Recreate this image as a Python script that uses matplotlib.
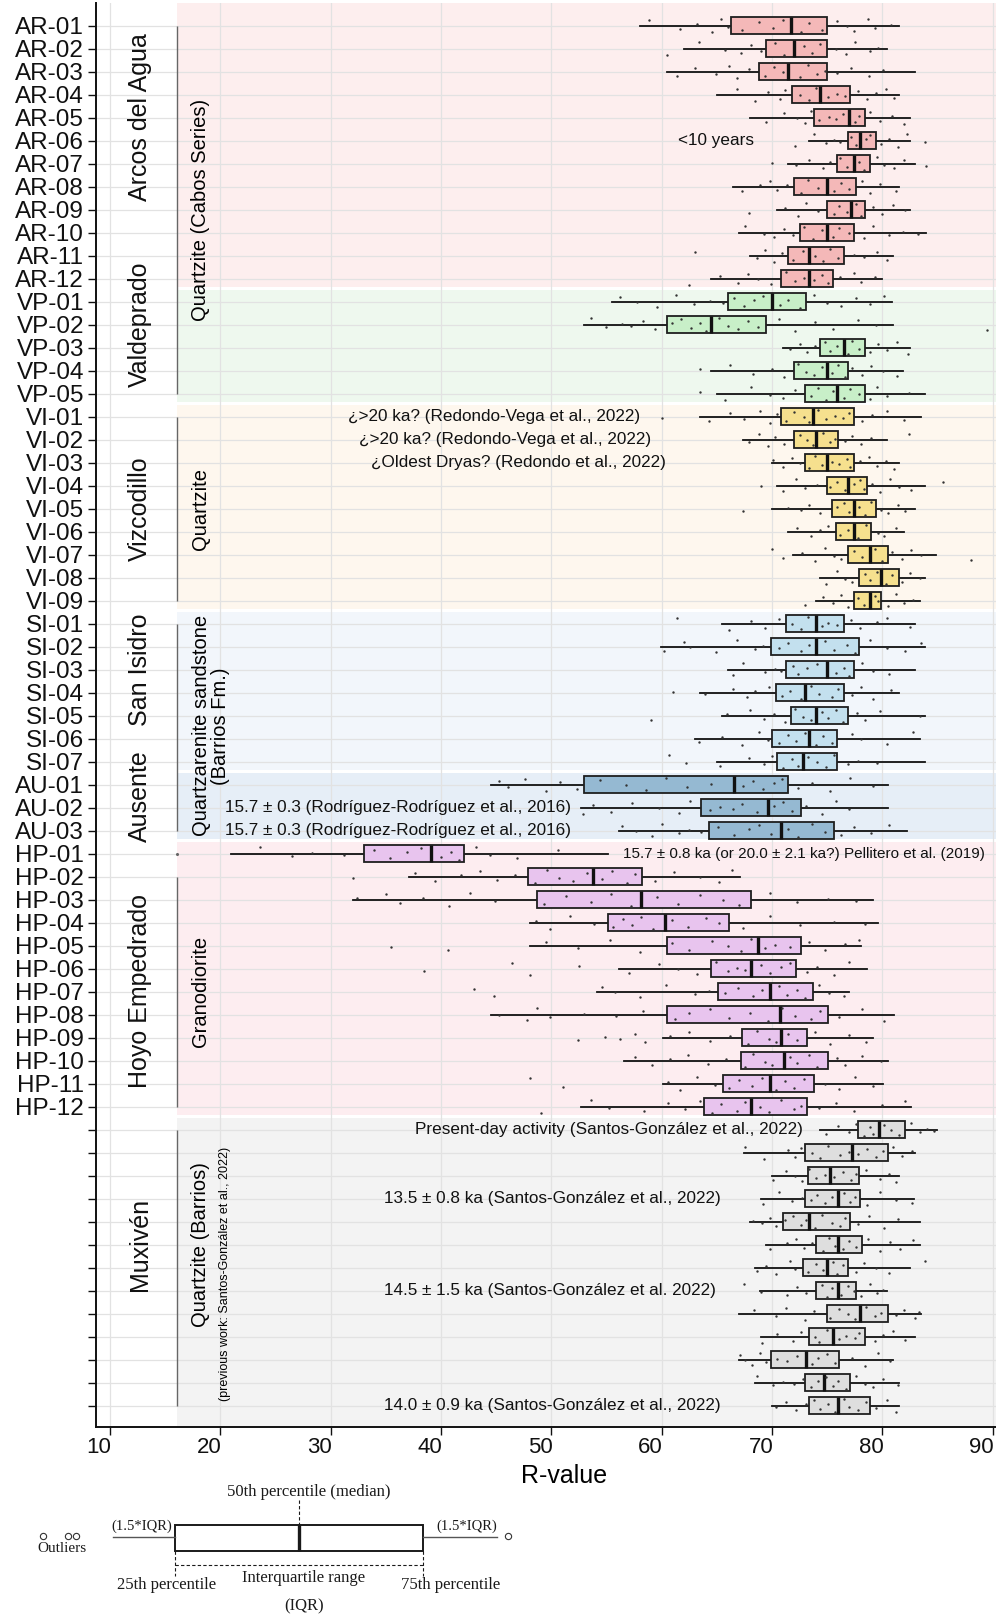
import matplotlib
matplotlib.use('Agg')
import matplotlib.pyplot as plt
from matplotlib.transforms import ScaledTranslation
from matplotlib.patches import Rectangle

# ---------------- data ----------------
samples = ['AR-01', 'AR-02', 'AR-03', 'AR-04', 'AR-05', 'AR-06', 'AR-07', 'AR-08', 'AR-09', 'AR-10', 'AR-11', 'AR-12',
           'VP-01', 'VP-02', 'VP-03', 'VP-04', 'VP-05',
           'VI-01', 'VI-02', 'VI-03', 'VI-04', 'VI-05', 'VI-06', 'VI-07', 'VI-08', 'VI-09',
           'SI-01', 'SI-02', 'SI-03', 'SI-04', 'SI-05', 'SI-06', 'SI-07',
           'AU-01', 'AU-02', 'AU-03',
           'HP-01', 'HP-02', 'HP-03', 'HP-04', 'HP-05', 'HP-06', 'HP-07', 'HP-08', 'HP-09', 'HP-10', 'HP-11', 'HP-12',
           '', '', '', '', '', '', '', '', '', '', '', '', '']

whisker_low = [58.0, 62.0, 60.5, 65.0, 68.0, 73.4, 71.5, 66.5, 70.5, 67.0, 68.0, 64.5,
               55.5, 53.0, 71.0, 64.5, 65.0,
               63.5, 67.4, 70.0, 70.5, 70.0, 71.5, 71.9, 74.4, 74.0,
               65.5, 59.9, 66.0, 63.5, 65.5, 63.0, 65.0,
               44.5, 52.7, 56.1,
               21.0, 37.1, 32.0, 48.1, 48.1, 56.1, 54.1, 44.5, 60.1, 56.6, 60.1, 52.7,
               74.4, 67.5, 70.0, 69.0, 68.0, 69.5, 68.5, 68.9, 67.0, 69.0, 67.0, 68.5, 70.0]
q1 = [66.3, 69.5, 68.8, 71.8, 73.8, 76.9, 75.9, 72.0, 75.0, 72.5, 71.5, 70.8,
      66.0, 60.5, 74.4, 72.0, 73.0,
      70.8, 72.0, 73.0, 75.0, 75.4, 75.8, 76.9, 77.9, 77.4,
      71.3, 69.9, 71.3, 70.4, 71.7, 70.0, 70.5,
      53.0, 63.6, 64.3,
      33.0, 47.9, 48.7, 55.1, 60.5, 64.5, 65.1, 60.5, 67.3, 67.2, 65.6, 63.8,
      77.8, 73.0, 73.3, 73.0, 71.0, 74.0, 72.8, 74.0, 75.0, 73.4, 69.9, 73.0, 73.4]
median = [71.7, 72.0, 71.5, 74.4, 77.0, 78.0, 77.4, 75.0, 77.2, 75.0, 73.4, 73.4,
          70.0, 64.5, 76.5, 75.0, 75.9,
          73.7, 74.0, 75.0, 76.9, 77.4, 77.4, 78.9, 79.9, 78.9,
          74.0, 74.0, 75.0, 73.0, 74.0, 73.4, 72.8,
          66.6, 69.6, 70.8,
          39.1, 53.8, 58.1, 60.3, 68.7, 68.1, 69.8, 70.7, 70.8, 71.1, 69.8, 68.1,
          79.7, 77.3, 75.3, 76.0, 73.4, 76.0, 75.0, 76.0, 78.0, 75.5, 73.1, 74.7, 76.0]
q3 = [75.0, 75.0, 75.0, 77.1, 78.4, 79.4, 78.9, 77.6, 78.4, 77.4, 76.5, 75.5,
      73.1, 69.5, 78.4, 76.9, 78.4,
      77.4, 76.0, 77.4, 78.6, 79.4, 79.0, 80.5, 81.5, 79.9,
      76.5, 77.9, 77.4, 76.5, 76.9, 75.9, 75.9,
      71.5, 72.6, 75.6,
      42.1, 58.2, 68.1, 66.1, 72.6, 72.2, 73.7, 75.1, 73.2, 75.1, 73.8, 73.2,
      82.1, 80.5, 77.9, 78.0, 77.1, 78.2, 76.9, 77.6, 80.5, 78.4, 76.1, 77.1, 78.9]
whisker_high = [81.5, 80.4, 83.0, 81.5, 82.5, 82.5, 83.0, 81.5, 82.5, 84.0, 81.0, 80.0,
                80.9, 81.0, 82.5, 81.9, 83.9,
                83.5, 80.4, 81.5, 83.9, 83.0, 82.0, 84.9, 83.9, 83.4,
                83.0, 83.9, 83.0, 81.5, 83.9, 83.4, 83.9,
                80.5, 80.5, 82.2,
                55.1, 67.1, 79.2, 79.6, 78.1, 78.6, 77.0, 81.1, 79.2, 80.5, 80.1, 82.6,
                85.0, 83.0, 81.5, 82.9, 83.4, 83.4, 82.5, 80.4, 83.5, 83.0, 81.0, 81.5, 81.5]

points = [
    [58.9, 61.7, 63.2, 64.6, 65.4, 66.0, 67.3, 68.8, 70.1, 71.0, 72.6, 73.4, 74.5, 75.9, 76.8, 77.4, 78.7, 79.3, 80.8],
    [60.5, 63.4, 65.7, 67.2, 68.1, 69.0, 70.3, 71.1, 72.9, 73.6, 74.4, 75.8, 76.7, 77.5, 78.9, 79.6],
    [61.4, 63.0, 64.9, 66.1, 66.8, 67.9, 69.4, 70.2, 71.0, 72.5, 73.3, 74.1, 74.8, 75.9, 77.2, 78.8, 80.1],
    [66.8, 68.5, 69.6, 70.7, 71.2, 72.5, 73.4, 74.0, 75.1, 75.9, 76.6, 77.8, 78.6, 79.4, 80.3, 81.1],
    [69.5, 71.1, 72.3, 73.0, 73.5, 74.3, 75.2, 75.8, 76.4, 77.5, 77.9, 78.9, 79.8, 80.9, 82.0],
    [72.1, 73.8, 74.9, 75.6, 76.2, 77.2, 77.6, 78.5, 78.9, 79.9, 80.6, 81.4, 82.2, 83.9],
    [70.0, 72.2, 73.4, 74.6, 75.3, 76.2, 76.8, 77.9, 78.3, 79.5, 80.2, 81.1, 82.0, 84.0],
    [67.3, 68.9, 69.8, 70.5, 71.4, 72.6, 73.3, 74.2, 75.6, 76.3, 77.0, 78.2, 78.9, 79.8, 81.2],
    [67.9, 71.2, 72.4, 73.1, 74.2, 75.6, 76.1, 76.8, 77.6, 78.1, 79.2, 80.0, 81.0, 82.1],
    [67.6, 69.3, 70.2, 71.1, 71.9, 72.9, 73.7, 74.5, 75.5, 76.1, 77.0, 78.3, 79.2, 80.6, 81.9, 83.2],
    [63.0, 68.6, 69.4, 70.2, 70.9, 71.9, 72.8, 73.9, 74.6, 75.3, 76.0, 77.4, 78.3, 79.5, 80.4],
    [62.5, 65.3, 66.9, 67.8, 68.7, 69.9, 71.3, 72.1, 72.9, 73.8, 74.5, 75.1, 76.2, 77.4, 78.1, 79.3],
    [56.2, 57.8, 59.6, 61.3, 62.9, 64.4, 65.6, 66.6, 67.5, 68.4, 69.2, 70.7, 71.5, 72.5, 73.8, 75.0, 76.3, 77.6, 78.9, 80.2],
    [53.6, 55.0, 56.4, 57.2, 58.3, 59.4, 60.9, 61.8, 62.7, 63.5, 64.0, 65.2, 66.0, 66.9, 67.8, 68.7, 70.6, 72.1, 73.9, 75.5, 77.8, 79.4, 89.5],
    [71.6, 72.5, 73.2, 73.9, 74.8, 75.3, 75.9, 76.9, 77.3, 77.9, 78.9, 79.6, 80.4, 81.3, 82.3],
    [63.5, 66.2, 68.3, 70.0, 71.1, 72.4, 73.1, 73.8, 74.5, 75.4, 76.0, 76.6, 77.3, 78.2, 79.0, 80.1, 81.3],
    [63.5, 65.7, 68.1, 69.8, 71.0, 72.1, 73.5, 74.2, 74.9, 75.5, 76.5, 77.1, 77.9, 78.9, 79.5, 80.4, 82.4],
    [60.0, 64.3, 66.2, 67.5, 68.9, 69.8, 70.5, 71.3, 72.0, 72.9, 73.4, 74.2, 74.9, 75.7, 76.4, 77.0, 78.2, 79.1, 80.4, 82.0],
    [67.9, 68.8, 69.6, 70.3, 71.1, 72.5, 73.2, 73.7, 74.6, 75.3, 75.7, 76.6, 77.3, 78.1, 79.0, 82.4],
    [70.1, 71.0, 71.8, 72.5, 73.4, 73.9, 74.5, 75.4, 76.1, 76.8, 77.1, 78.0, 78.8, 79.5, 80.3, 81.1],
    [69.0, 71.0, 72.2, 73.0, 74.1, 75.3, 75.9, 76.6, 77.4, 78.0, 78.3, 79.1, 79.8, 80.7, 81.5, 82.6, 85.5],
    [67.4, 71.5, 72.6, 73.4, 74.4, 75.9, 76.5, 77.0, 77.9, 78.4, 79.0, 79.9, 80.5, 81.4, 82.1],
    [72.3, 73.5, 74.4, 75.1, 76.2, 76.9, 77.8, 78.5, 79.6, 80.2, 81.2],
    [70.0, 71.0, 72.7, 73.9, 74.8, 75.6, 76.3, 77.4, 78.2, 79.3, 80.0, 80.9, 81.8, 82.6, 83.5, 88.0],
    [74.9, 75.9, 76.6, 77.3, 78.4, 78.9, 79.5, 80.3, 80.9, 81.8, 82.5, 83.4],
    [73.0, 74.6, 75.5, 76.3, 76.9, 77.8, 78.3, 79.3, 79.6, 80.5, 81.2, 82.0, 82.8],
    [61.4, 66.1, 68.1, 69.4, 70.6, 71.8, 72.6, 73.3, 74.5, 75.1, 75.9, 77.2, 78.0, 79.5, 80.4, 82.5],
    [60.2, 62.0, 62.6, 64.9, 66.8, 68.5, 69.2, 70.6, 71.5, 72.6, 73.4, 74.8, 75.6, 76.8, 77.5, 78.9, 80.4, 82.1, 83.5],
    [66.5, 67.4, 69.4, 70.3, 70.8, 71.9, 72.4, 73.2, 74.1, 75.8, 76.5, 77.0, 78.2, 79.2, 80.6],
    [61.0, 63.9, 66.5, 67.7, 68.5, 69.7, 70.9, 71.6, 72.6, 73.5, 74.3, 75.4, 76.0, 77.3, 78.1, 79.2, 80.8],
    [59.0, 65.9, 68.0, 69.3, 70.2, 71.2, 72.1, 72.8, 73.5, 74.5, 75.1, 75.8, 76.4, 77.7, 78.4, 79.8, 83.4],
    [63.4, 65.5, 67.3, 68.8, 69.6, 70.6, 71.5, 72.2, 73.0, 74.0, 74.6, 75.4, 77.3, 78.1, 80.4, 82.8],
    [60.7, 62.2, 65.3, 67.9, 69.3, 70.0, 71.0, 71.8, 72.4, 73.3, 74.1, 74.9, 75.6, 76.9, 77.8, 79.5],
    [45.3, 46.1, 47.6, 49.5, 50.8, 52.3, 54.4, 56.8, 58.6, 60.4, 62.3, 64.5, 67.4, 68.3, 69.2, 70.2, 70.9, 72.4, 73.6, 75.3, 77.1, 79.2],
    [52.9, 53.8, 55.4, 57.3, 59.8, 61.6, 62.6, 64.4, 65.3, 66.5, 67.3, 68.6, 70.2, 71.0, 71.8, 73.1, 74.5, 75.8, 77.0],
    [56.4, 57.7, 59.1, 60.0, 61.6, 62.5, 63.6, 65.1, 66.6, 67.9, 68.8, 69.9, 71.5, 72.4, 73.6, 74.8, 76.3, 77.4, 79.0, 80.6],
    [23.6, 26.5, 28.3, 31.2, 33.9, 35.4, 36.9, 38.2, 40.0, 40.9, 41.6, 43.2, 44.4, 46.9, 50.6],
    [32.0, 37.6, 39.5, 41.8, 43.5, 45.1, 46.7, 48.5, 49.6, 50.7, 52.0, 53.2, 54.6, 55.5, 56.9, 57.6, 59.4, 61.1, 63.5, 65.2, 66.4],
    [32.4, 35.0, 36.3, 38.4, 40.7, 42.6, 44.9, 49.3, 51.3, 53.6, 55.4, 57.2, 59.6, 61.5, 63.5, 65.6, 67.0, 69.8, 72.3, 75.1, 77.6],
    [48.6, 49.9, 51.7, 53.9, 55.6, 56.5, 57.3, 58.1, 59.2, 60.9, 62.4, 64.0, 65.2, 67.4, 69.8, 72.5, 75.6, 78.4],
    [35.5, 40.6, 49.5, 52.4, 55.3, 58.0, 60.9, 62.5, 64.6, 66.0, 67.2, 68.1, 69.4, 70.3, 71.6, 73.4, 74.8, 76.6, 77.9],
    [38.5, 46.4, 48.1, 52.5, 57.0, 59.8, 61.5, 63.2, 64.9, 66.0, 66.8, 67.6, 69.0, 69.8, 70.8, 71.6, 73.2, 74.1, 75.6, 77.0],
    [43.0, 44.8, 54.6, 55.8, 58.0, 60.4, 63.0, 64.3, 65.7, 66.9, 68.3, 69.1, 70.6, 71.4, 72.3, 73.0, 74.3, 75.2, 76.5],
    [45.3, 47.8, 48.7, 49.9, 53.0, 55.9, 58.3, 61.2, 62.5, 64.4, 66.1, 68.0, 69.6, 70.9, 72.1, 73.5, 74.4, 76.1, 78.2, 80.2],
    [52.4, 54.9, 56.2, 57.6, 58.5, 60.8, 62.5, 64.4, 66.2, 67.8, 68.6, 69.7, 70.4, 71.5, 72.3, 73.9, 75.3, 77.0, 78.5],
    [57.6, 59.1, 60.8, 62.4, 64.2, 65.8, 67.6, 68.3, 69.4, 70.0, 71.6, 72.3, 73.4, 74.1, 75.9, 76.6, 78.2, 79.9],
    [48.1, 51.1, 60.6, 61.7, 63.2, 64.8, 66.1, 67.0, 68.2, 69.1, 70.4, 71.2, 72.0, 72.9, 74.8, 76.1, 77.5, 79.2],
    [49.1, 53.6, 55.2, 58.4, 60.6, 62.1, 63.5, 64.6, 65.4, 66.8, 67.6, 68.9, 69.7, 70.8, 72.0, 72.6, 74.3, 75.8, 77.4, 80.0, 82.1],
    [74.9, 76.0, 77.0, 77.6, 78.3, 78.9, 79.2, 80.2, 80.8, 81.5, 82.6, 83.4, 84.1, 84.7],
    [67.6, 69.3, 71.5, 72.1, 72.6, 73.6, 74.4, 75.1, 76.2, 77.0, 77.8, 78.6, 79.4, 80.1, 81.0, 81.8, 82.7],
    [70.1, 71.3, 72.1, 72.7, 73.4, 74.0, 74.8, 75.6, 76.4, 77.2, 77.6, 78.5, 79.8, 80.6, 81.2],
    [69.2, 70.6, 71.8, 72.7, 73.5, 74.1, 74.8, 75.4, 76.5, 77.1, 77.5, 78.6, 79.8, 81.2, 82.7],
    [68.3, 69.1, 69.8, 70.4, 71.2, 71.9, 72.6, 73.1, 73.9, 74.5, 75.4, 76.2, 76.6, 77.8, 78.8, 80.2, 81.4],
    [69.8, 71.4, 72.2, 72.9, 73.6, 74.6, 75.2, 75.7, 76.4, 77.0, 77.6, 78.7, 79.8, 80.7, 81.6, 82.8],
    [68.6, 69.5, 70.4, 71.6, 72.1, 73.3, 74.0, 74.6, 75.5, 75.9, 76.4, 77.6, 78.3, 79.4, 80.6, 83.9],
    [67.5, 69.0, 71.4, 72.3, 73.1, 74.5, 75.0, 75.4, 76.3, 76.9, 77.4, 78.1, 78.9, 79.5, 80.1],
    [68.4, 70.4, 71.3, 73.0, 73.8, 75.3, 76.1, 76.9, 77.5, 78.5, 79.3, 79.9, 81.2, 82.0, 83.0, 83.3],
    [69.1, 70.5, 71.9, 72.6, 73.9, 74.3, 75.0, 76.1, 76.7, 77.5, 77.9, 79.3, 80.1, 81.0, 82.1],
    [67.1, 67.6, 68.2, 68.9, 69.5, 70.5, 71.4, 72.3, 73.6, 74.2, 75.0, 75.7, 77.3, 78.4, 79.6, 80.7],
    [68.6, 70.1, 71.0, 72.0, 72.8, 73.5, 74.2, 74.9, 75.5, 76.0, 76.7, 77.6, 78.4, 79.2, 80.1, 81.4],
    [70.4, 71.3, 72.2, 73.1, 73.8, 74.4, 75.1, 75.7, 76.5, 77.0, 77.8, 78.5, 79.4, 80.4, 81.2],
]

section_sizes = [12, 5, 9, 7, 3, 12, 13]
band_colors = ['#fdeeee', '#eef8ee', '#fef7ee', '#f2f6fb', '#e6eef7', '#fdedf0', '#f3f3f3']
box_colors = ['#f4b8b8', '#c8efc8', '#f6e08e', '#c3e0ee', '#95b9d2', '#e8c4ee', '#dedede']

x_ticks = [10, 20, 30, 40, 50, 60, 70, 80, 90]

sites = ['Arcos del Agua', 'Valdeprado', 'Vizcodillo', 'San Isidro', 'Ausente', 'Hoyo Empedrado', 'Muxivén']
site_rows = [4.0, 13.0, 21.0, 28.0, 33.5, 42.0, 53.0]

annotations = [
    ('<10 years', 61.5, 5, 12.3),
    ('¿>20 ka? (Redondo-Vega et al., 2022)', 31.6, 17, 12.3),
    ('¿>20 ka? (Redondo-Vega et al., 2022)', 32.6, 18, 12.3),
    ('¿Oldest Dryas? (Redondo et al., 2022)', 33.7, 19, 12.3),
    ('15.7 ± 0.3 (Rodríguez-Rodríguez et al., 2016)', 20.4, 34, 12.3),
    ('15.7 ± 0.3 (Rodríguez-Rodríguez et al., 2016)', 20.4, 35, 12.3),
    ('15.7 ± 0.8 ka (or 20.0 ± 2.1 ka?) Pellitero et al. (2019)', 56.5, 36, 11.0),
    ('Present-day activity (Santos-González et al., 2022)', 37.6, 48, 12.3),
    ('13.5 ± 0.8 ka (Santos-González et al., 2022)', 34.8, 51, 12.3),
    ('14.5 ± 1.5 ka (Santos-González et al. 2022)', 34.8, 55, 12.3),
    ('14.0 ± 0.9 ka (Santos-González et al., 2022)', 34.8, 60, 12.3),
]

# ---------------- figure ----------------
plt.rcParams['font.family'] = ['Liberation Sans', 'DejaVu Sans']
W, H = 996, 1616
fig = plt.figure(figsize=(W / 100, H / 100), dpi=100)
ax = fig.add_axes([95.7 / W, 1 - 1427 / H, 1 - 95.7 / W, (1427 - 3) / H])

n = len(samples)
rows = list(range(n))
XMIN, XMAX = 8.7, 90.31
STRIP_X = 16.05
ax.set_xlim(XMIN, XMAX)
ax.set_ylim((1427 - 25.5) / 23.0, (3 - 25.5) / 23.0)

# section background bands
starts = []
s = 0
for k in section_sizes:
    starts.append(s)
    s += k
row_color = []
for i, k in enumerate(section_sizes):
    r0 = starts[i]
    r1 = r0 + k - 1
    top = r0 - 0.48 if i > 0 else -2
    bot = r1 + 0.38 if i < len(section_sizes) - 1 else r1 + 3
    ax.add_patch(Rectangle((STRIP_X, top), 100, bot - top, facecolor=band_colors[i],
                           edgecolor='none', zorder=0.1))
    row_color += [box_colors[i]] * k

# grid
ax.set_axisbelow(True)
ax.set_xticks(x_ticks)
ax.set_yticks(rows)
ax.set_yticklabels(samples)
ax.grid(True, color='#e2e2e2', linewidth=0.9)

# strip separator lines
strip_segments = [(0, 16), (17, 25), (26, 35), (37, 47), (48, 60)]
for a, b in strip_segments:
    ax.plot([STRIP_X, STRIP_X], [a, b], color='#666666', lw=1.0, zorder=1, solid_capstyle='butt')
ax.plot([STRIP_X], [36], marker='o', ms=1.2, color='#666666', zorder=1)

# box plots
stats = []
for i in range(n):
    stats.append(dict(whislo=whisker_low[i], q1=q1[i], med=median[i], q3=q3[i],
                      whishi=whisker_high[i], fliers=[]))
bp = ax.bxp(stats, positions=rows, widths=0.72, orientation='horizontal',
            patch_artist=True, showcaps=False, showfliers=False, manage_ticks=False,
            boxprops=dict(linewidth=1.3, edgecolor='#1e1e1e'),
            medianprops=dict(color='#111111', linewidth=2.4, solid_capstyle='butt'),
            whiskerprops=dict(color='#111111', linewidth=1.3))
for patch, c in zip(bp['boxes'], row_color):
    patch.set_facecolor(c)
    patch.set_zorder(2)
for w in bp['whiskers']:
    w.set_zorder(1.9)
for m in bp['medians']:
    m.set_zorder(3)

# jittered observations (vertical offset pattern is only a display spread)
jit = [-0.22, 0.15, -0.05, 0.27, -0.29, 0.05, 0.21, -0.14, 0.1, -0.25, 0.3, -0.1, 0.18, -0.19, 0.0, 0.24, -0.27, 0.12, -0.02, 0.08, -0.17, 0.2, -0.08]
xs, ys = [], []
for i, pts in enumerate(points):
    for j, v in enumerate(pts):
        xs.append(v)
        ys.append(i + jit[(j + 3 * i) % len(jit)])
ax.scatter(xs, ys, s=3.0, c='#333333', linewidths=0, zorder=4)

# axes styling
for sp in ['top', 'right']:
    ax.spines[sp].set_visible(False)
for sp in ['left', 'bottom']:
    ax.spines[sp].set_linewidth(1.4)
    ax.spines[sp].set_color('#111111')
ax.tick_params(axis='y', length=5.5, width=1.0, labelsize=17.5, pad=3, colors='#111111')
ax.tick_params(axis='x', length=5.5, width=1.0, labelsize=16, pad=2, colors='#111111')
for lab in ax.get_xticklabels():
    lab.set_transform(lab.get_transform() + ScaledTranslation(-0.11, 0, fig.dpi_scale_trans))
ax.set_xlabel('R-value', fontsize=18, va='center')
ax.xaxis.set_label_coords(0.52, (1427 - 1476) / (1427 - 3))

# site names
x_site = XMIN + (140 - 95.7) / 11.03
for name, r in zip(sites, site_rows):
    ax.text(x_site, r, name, rotation=90, ha='center', va='center', fontsize=18, color='#111111', zorder=5)

# lithology labels
x_lith = XMIN + (200 - 95.7) / 11.03
ax.text(x_lith, 8.0, 'Quartzite (Cabos Series)', rotation=90, ha='center', va='center', fontsize=14.5, zorder=5)
ax.text(x_lith, 21.0, 'Quartzite', rotation=90, ha='center', va='center', fontsize=14.5, zorder=5)
ax.text(XMIN + (211 - 95.7) / 11.03, 30.45, 'Quartzarenite sandstone\n(Barrios Fm.)', rotation=90,
        ha='center', va='center', fontsize=14.5, multialignment='center', linespacing=1.0, zorder=5)
ax.text(x_lith, 42.0, 'Granodiorite', rotation=90, ha='center', va='center', fontsize=14.5, zorder=5)
ax.text(x_lith, 53.0, 'Quartzite (Barrios)', rotation=90, ha='center', va='center', fontsize=14.5, zorder=5)
ax.text(XMIN + (225 - 95.7) / 11.03, 54.3, '(previous work: Santos-González et al., 2022)', rotation=90,
        ha='center', va='center', fontsize=9, zorder=5)

# annotations
for txt, xv, r, fs in annotations:
    ax.text(xv, r, txt, ha='left', va='center', fontsize=fs, color='#111111', zorder=5)

# ---------------- box plot explanation (schematic) ----------------
lax = fig.add_axes([0, 0, 1, 1])
lax.set_xlim(0, W)
lax.set_ylim(H, 0)
lax.axis('off')
serif = ['Liberation Serif', 'DejaVu Serif']
k = '#1a1a1a'
lax.add_patch(Rectangle((175.3, 1525), 247.4, 26, fill=False, lw=1.4, ec=k))
lax.plot([299, 299], [1525, 1551], color=k, lw=2.4, solid_capstyle='butt')
lax.plot([299, 299], [1500, 1525], color=k, lw=0.8, ls=(0, (3, 2)))
lax.plot([113, 175.3], [1537, 1537], color='#555555', lw=1.0)
lax.plot([422.7, 497], [1537, 1537], color='#555555', lw=1.0)
lax.plot([43, 68, 75.5, 508], [1536, 1536, 1536, 1536], ls='none', marker='o', ms=4.5,
         mfc='white', mec='#333333', mew=0.8)
lax.plot([175.3, 175.3], [1551, 1576], color=k, lw=0.8, ls=(0, (3, 2)))
lax.plot([422.7, 422.7], [1551, 1576], color=k, lw=0.8, ls=(0, (3, 2)))
lax.plot([175.3, 422.7], [1565, 1565], color=k, lw=0.8, ls=(0, (3, 2)))
lax.text(309, 1492, '50th percentile (median)', family=serif, fontsize=12, ha='center', va='center', color=k)
lax.text(142, 1526, '(1.5*IQR)', family=serif, fontsize=10.5, ha='center', va='center', color=k)
lax.text(467, 1526, '(1.5*IQR)', family=serif, fontsize=10.5, ha='center', va='center', color=k)
lax.text(62, 1549, 'Outliers', family=serif, fontsize=11, ha='center', va='center', color=k)
lax.text(167, 1585, '25th percentile', family=serif, fontsize=12, ha='center', va='center', color=k)
lax.text(304, 1578.5, 'Interquartile range', family=serif, fontsize=12, ha='center', va='center', color=k)
lax.text(304, 1606, '(IQR)', family=serif, fontsize=12, ha='center', va='center', color=k)
lax.text(450.5, 1585, '75th percentile', family=serif, fontsize=12, ha='center', va='center', color=k)

fig.savefig('out.png', dpi=100, facecolor='white')
